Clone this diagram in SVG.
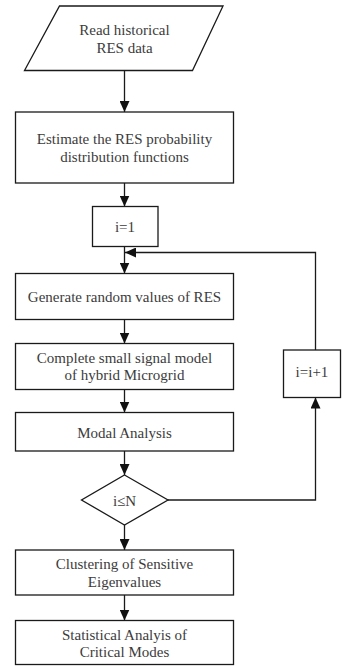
<svg xmlns="http://www.w3.org/2000/svg" width="342" height="666" viewBox="0 0 342 666">
<style>
.shape{fill:#fff;stroke:#1a1a1a;stroke-width:1.3}
.conn{fill:none;stroke:#1a1a1a;stroke-width:1.3}
text{font-family:"Liberation Serif","Times New Roman",serif;font-size:15px;fill:#3c3c3c;text-anchor:middle}
</style>
<defs>
<marker id="ah" markerUnits="userSpaceOnUse" markerWidth="11" markerHeight="10" refX="11" refY="5" orient="auto">
<path d="M0,0 L11,5 L0,10 z" fill="#111"/>
</marker>
</defs>
<rect width="342" height="666" fill="#fff"/>
<g id="connectors">
<line class="conn" x1="124.5" y1="71" x2="124.5" y2="112" marker-end="url(#ah)"/>
<line class="conn" x1="124.5" y1="183" x2="124.5" y2="206.5" marker-end="url(#ah)"/>
<line class="conn" x1="124.5" y1="246.5" x2="124.5" y2="273.5" marker-end="url(#ah)"/>
<line class="conn" x1="124.5" y1="319.5" x2="124.5" y2="343.5" marker-end="url(#ah)"/>
<line class="conn" x1="124.5" y1="389.5" x2="124.5" y2="412.5" marker-end="url(#ah)"/>
<line class="conn" x1="124.5" y1="451" x2="124.5" y2="475" marker-end="url(#ah)"/>
<polyline class="conn" points="168,500 315.5,500 315.5,397.5" marker-end="url(#ah)"/>
<polyline class="conn" points="315.5,350 315.5,252.5 125,252.5" marker-end="url(#ah)"/>
<line class="conn" x1="124.5" y1="525" x2="124.5" y2="550" marker-end="url(#ah)"/>
<line class="conn" x1="124.5" y1="595" x2="124.5" y2="620.5" marker-end="url(#ah)"/>
</g>
<g id="read">
<polygon class="shape" points="59.5,6 223,6 192.5,70.5 24.5,70.5"/>
<text x="124.5" y="35">Read historical</text>
<text x="124.5" y="53">RES data</text>
</g>
<g id="estimate">
<rect class="shape" x="15.5" y="112" width="218" height="71"/>
<text x="124.5" y="144">Estimate the RES probability</text>
<text x="124.5" y="162">distribution functions</text>
</g>
<g id="init">
<rect class="shape" x="92.5" y="206.5" width="65.5" height="40"/>
<text x="125" y="232">i=1</text>
</g>
<g id="generate">
<rect class="shape" x="15.5" y="273.5" width="218" height="46"/>
<text x="124.5" y="301.5">Generate random values of RES</text>
</g>
<g id="model">
<rect class="shape" x="15.5" y="343.5" width="218" height="46"/>
<text x="124.5" y="363">Complete small signal model</text>
<text x="124.5" y="380">of hybrid Microgrid</text>
</g>
<g id="modal">
<rect class="shape" x="15.5" y="412.5" width="218" height="38.5"/>
<text x="124.5" y="438">Modal Analysis</text>
</g>
<g id="decision">
<polygon class="shape" points="124.5,475 168,500 124.5,525 81.5,500"/>
<text x="124.5" y="506">i≤N</text>
</g>
<g id="increment">
<rect class="shape" x="283.5" y="350" width="57" height="47.5"/>
<text x="312" y="377">i=i+1</text>
</g>
<g id="clustering">
<rect class="shape" x="15.5" y="550" width="218" height="45"/>
<text x="124.5" y="569">Clustering of Sensitive</text>
<text x="124.5" y="586.5">Eigenvalues</text>
</g>
<g id="statistical">
<rect class="shape" x="15.5" y="620.5" width="218" height="44"/>
<text x="124.5" y="640">Statistical Analyis of</text>
<text x="124.5" y="656.5">Critical Modes</text>
</g>
</svg>
